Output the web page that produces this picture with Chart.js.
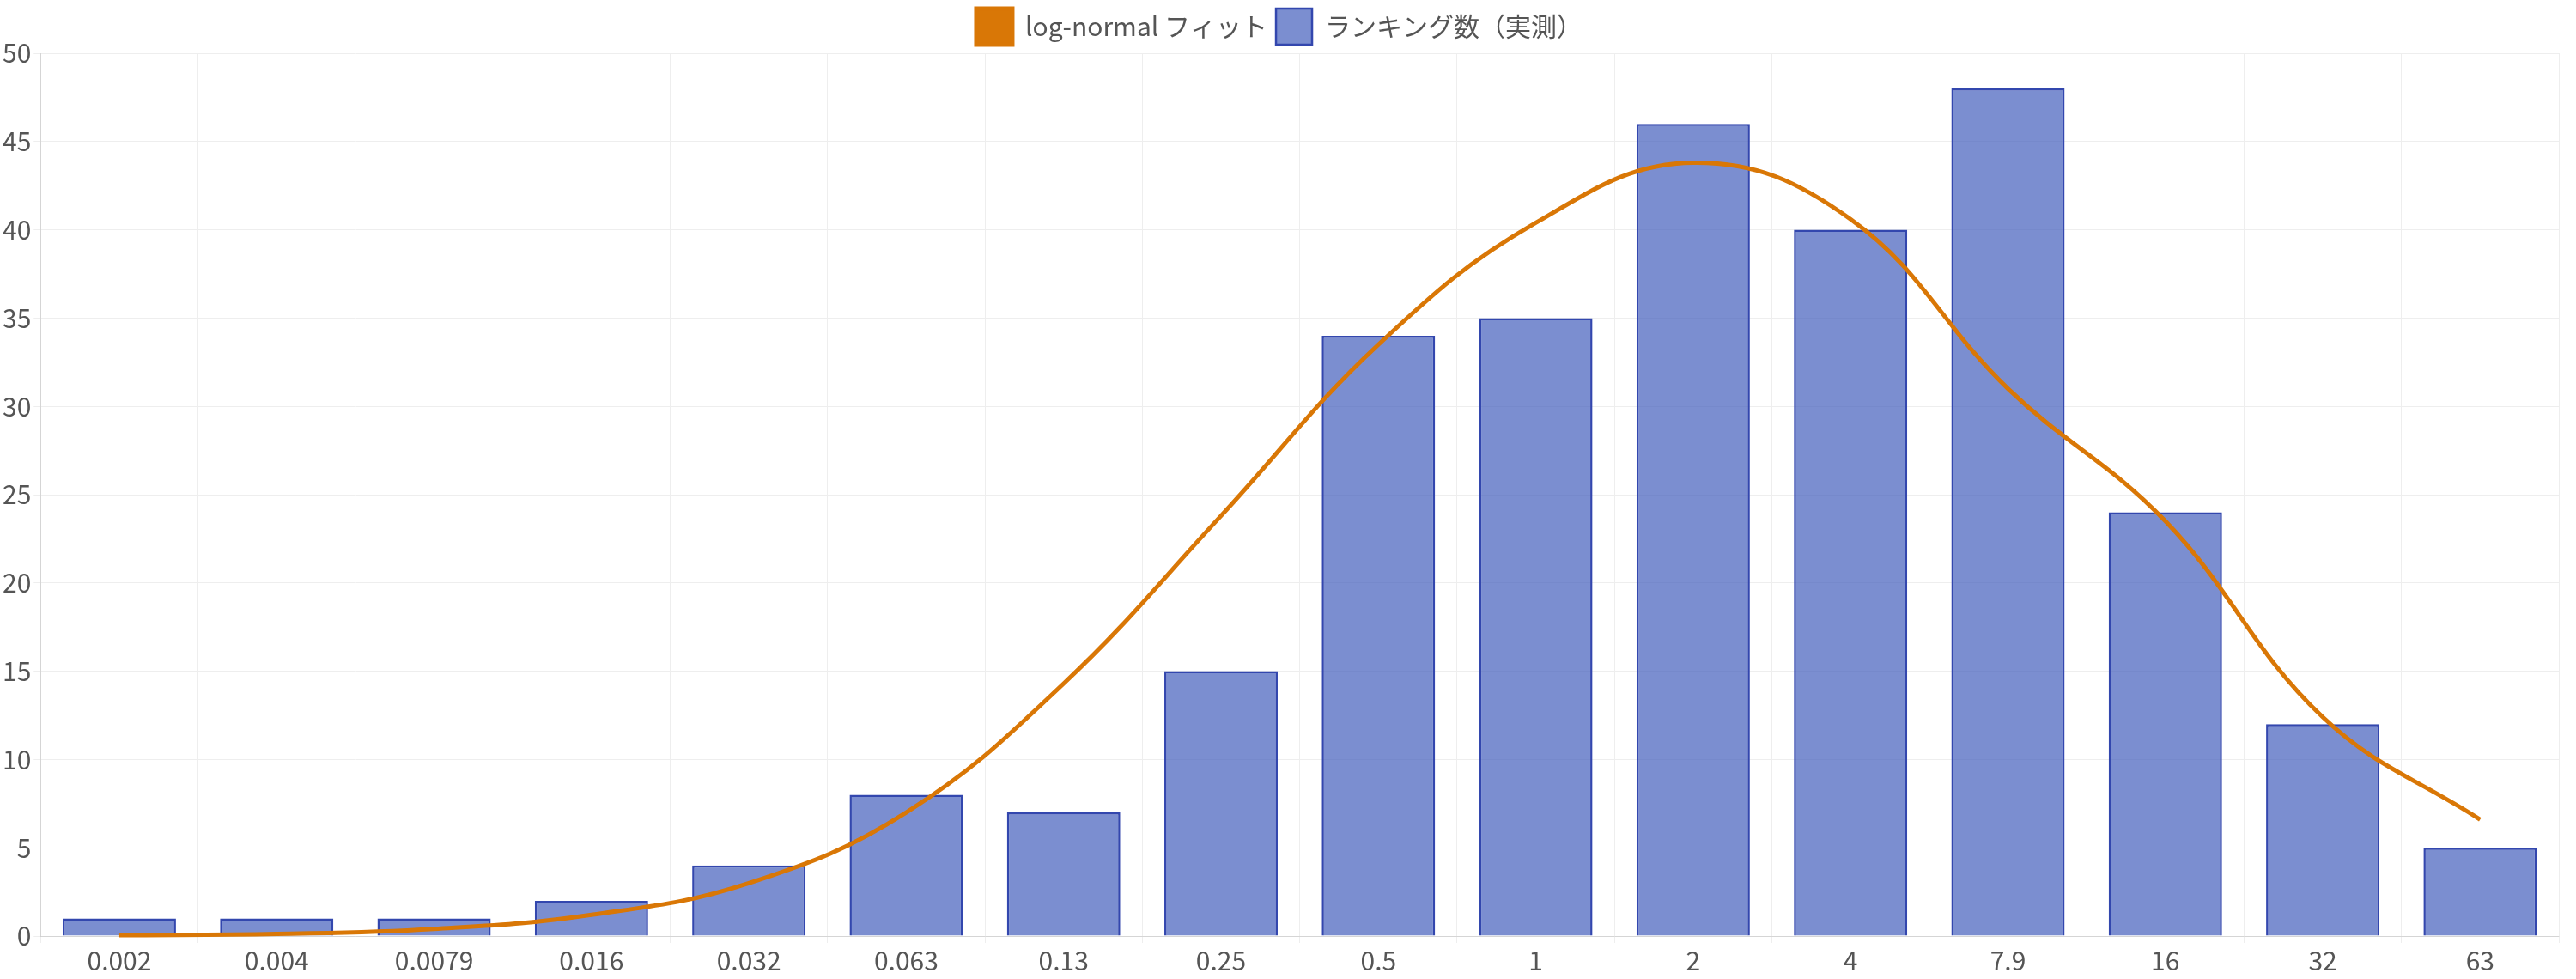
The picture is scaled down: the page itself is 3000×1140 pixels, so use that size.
<!DOCTYPE html>
<html>
<head>
<meta charset="utf-8">
<script src="https://cdn.jsdelivr.net/npm/chart.js@4"></script>
<style>
  html, body { margin: 0; padding: 0; background: #fff; }
  #wrap { width: 3000px; height: 1140px; }
</style>
</head>
<body>
<div id="wrap"><canvas id="histChart"></canvas></div>
<script>
const categories = ['0.002', '0.004', '0.0079', '0.016', '0.032', '0.063', '0.13', '0.25', '0.5', '1', '2', '4', '7.9', '16', '32', '63'];
const rankingCounts = [1, 1, 1, 2, 4, 8, 7, 15, 34, 35, 46, 40, 48, 24, 12, 5];
const lognormalFit = [0.05, 0.12, 0.4, 1.2, 3.0, 7.0, 14.3, 23.8, 33.5, 40.4, 43.8, 40.6, 31.0, 23.5, 12.4, 6.6];

Chart.defaults.font.family = "'Helvetica Neue', 'Noto Sans CJK JP', 'Liberation Sans', sans-serif";
Chart.defaults.font.size = 30;
Chart.defaults.color = '#555';

const ctx = document.getElementById('histChart');
new Chart(ctx, {
  type: 'bar',
  data: {
    labels: categories,
    datasets: [
      {
        type: 'line',
        label: 'log-normal フィット',
        data: lognormalFit,
        borderColor: '#D97706',
        backgroundColor: '#D97706',
        borderWidth: 5,
        pointRadius: 0,
        tension: 0.4,
        fill: false,
        order: 0
      },
      {
        label: 'ランキング数（実測）',
        data: rankingCounts,
        backgroundColor: 'rgba(72, 99, 190, 0.72)',
        borderColor: '#3347AE',
        borderWidth: 2.5,
        order: 1
      }
    ]
  },
  options: {
    responsive: true,
    maintainAspectRatio: false,
    animation: false,
    layout: { padding: { left: 0, right: 20, top: 0, bottom: 0 } },
    plugins: {
      legend: {
        labels: { boxWidth: 42, boxHeight: 42, padding: 10, font: { size: 30 } }
      },
      tooltip: { enabled: false }
    },
    scales: {
      x: {
        grid: { color: '#eee' },
        ticks: { color: '#555' }
      },
      y: {
        beginAtZero: true,
        max: 50,
        ticks: { stepSize: 5, color: '#555' },
        grid: { color: '#eee' }
      }
    }
  }
});
</script>
</body>
</html>
